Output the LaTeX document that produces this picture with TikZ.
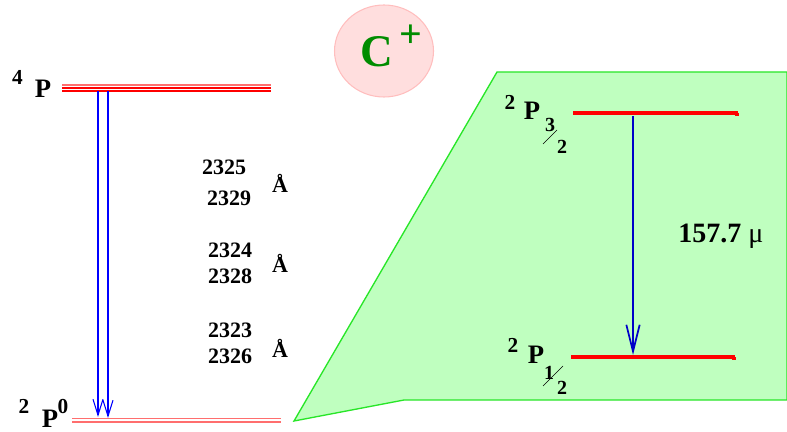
\documentclass[tikz,border=0pt]{standalone}
\usepackage{fontspec}
\setmainfont{Liberation Serif}
\usetikzlibrary{arrows.meta}
\definecolor{boxgreen}{RGB}{191,255,191}
\definecolor{edgegreen}{RGB}{40,230,40}
\definecolor{ionpink}{RGB}{255,222,222}
\definecolor{ionedge}{RGB}{255,190,190}
\definecolor{iongreen}{RGB}{0,140,0}
\definecolor{lightred}{RGB}{255,110,110}
\definecolor{darkblue}{RGB}{0,0,200}
\begin{document}
\begin{tikzpicture}
[x=0.75pt,y=-0.75pt,
 every node/.style={font=\bfseries,inner sep=0pt,anchor=base},
 term/.style={font=\bfseries\fontsize{20}{20}\selectfont},
 mult/.style={font=\bfseries\fontsize{16}{16}\selectfont},
 frac/.style={font=\bfseries\fontsize{15}{15}\selectfont},
 wave/.style={font=\bfseries\fontsize{16.5}{16.5}\selectfont},
 fine/.style={red,line width=2.3pt},
 trans/.style={blue,line width=0.8pt,-{Straight Barb[length=12pt,width=7.5pt]}}]
\useasboundingbox (0,0) rectangle (787,431);
% fine structure box
\filldraw[fill=boxgreen,draw=edgegreen,line width=1pt]
  (294,421) -- (497,72) -- (787,72) -- (787,400) -- (404,400) -- cycle;
% ion
\filldraw[fill=ionpink,draw=ionedge,line width=0.8pt] (384,51) ellipse (49.5 and 46);
\node[font=\bfseries\fontsize{34}{34}\selectfont,text=iongreen] (ion) at (377,67) {C};
\node[font=\bfseries\fontsize{30}{30}\selectfont,text=iongreen] (plus) at (411,48) {+};
% 4P level
\coordinate (4Pl) at (62,88);
\coordinate (4Pr) at (271,88);
\draw[lightred,line width=0.9pt] (62,85) -- (271,85);
\draw[red,line width=0.9pt] (4Pl) -- (4Pr);
\draw[red,line width=0.9pt] (62,91) -- (271,91);
\node[mult] (4a) at (17.5,85) {4};
\node[term] (4b) at (43,98) {P};
% 2P0 level
\coordinate (2Pl) at (72,420);
\coordinate (2Pr) at (281,420);
\draw[lightred,line width=1.3pt] (72,418.5) -- (281,418.5);
\draw[lightred,line width=1.3pt] (72,422) -- (281,422);
\node[mult] (2a) at (24,413) {2};
\node[term] (2b) at (50,427) {P};
\node[mult] (2c) at (63,413) {0};
% uv lines
\coordinate (u1) at (98,91);
\coordinate (u2) at (108,91);
\coordinate (d1) at (98,417);
\coordinate (d2) at (108,418);
\draw[trans] (u1) -- (d1);
\draw[trans] (u2) -- (d2);
\node[wave] (w1) at (224,174) {2325};
\node[wave] (w2) at (229,205) {2329};
\node[wave] (w3) at (230,257) {2324};
\node[wave] (w4) at (230,283) {2328};
\node[wave] (w5) at (230,337) {2323};
\node[wave] (w6) at (230,363) {2326};
\node[wave] (a1) at (280,192) {Å};
\node[wave] (a2) at (280,272) {Å};
\node[wave] (a3) at (280,357) {Å};
% 2P3/2 level
\coordinate (hi) at (633,116);
\coordinate (lo) at (633,355);
\draw[fine] (573,113) -- (738,113);
\draw[red,line width=2.3pt] (737,113) -- (737,116);
\node[mult] (h2) at (510,109) {2};
\node[term] (hP) at (532,119) {P};
\node[frac] (h3) at (550,132) {3};
\draw[line width=0.5pt] (543,144) -- (557,130);
\node[frac] (h4) at (562,153) {2};
% 2P1/2 level
\draw[fine] (571,357) -- (735,357);
\draw[red,line width=2.3pt] (734,357) -- (734,360);
\node[mult] (l2) at (513,352) {2};
\node[term] (lP) at (536,363) {P};
\node[frac] (l3) at (549,379) {1};
\draw[line width=0.5pt] (543,386) -- (563,366);
\node[frac] (l4) at (562,394) {2};
% fir line
\draw[darkblue,line width=1.3pt,-{Straight Barb[length=20pt,width=10pt]}] (hi) -- (lo);
\node[anchor=base west,font=\bfseries\fontsize{21}{21}\selectfont] (fir) at (678,242) {157.7 {\normalfont μ}};
\end{tikzpicture}
\end{document}
